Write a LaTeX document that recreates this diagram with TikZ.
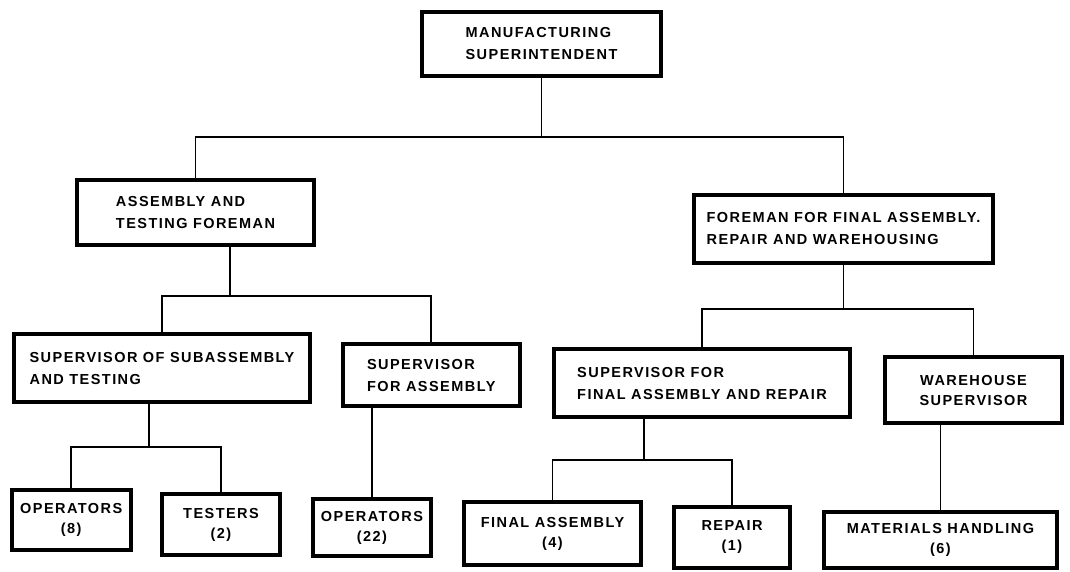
\documentclass[tikz,border=0pt]{standalone}
\usepackage{fontspec}
\setmainfont{Liberation Sans}[LetterSpace=10]
\usepackage{tikz}
\usetikzlibrary{calc}
\tikzset{
  orgbox/.style={draw, line width=4pt, align=left, inner sep=0pt,
    font=\bfseries\fontsize{14.5}{22}\selectfont},
  leafbox/.style={orgbox, align=center, font=\bfseries\fontsize{14.5}{20}\selectfont},
  conn/.style={line width=1.7pt},
}

\begin{document}
\begin{tikzpicture}[x=1pt, y=-1pt]
\useasboundingbox (0,0) rectangle (1070,571);
% level 0 and 1
\node[orgbox, minimum width=239pt, minimum height=64pt] (top) at (541.5,44) {MANUFACTURING\\SUPERINTENDENT};
\node[orgbox, minimum width=237pt, minimum height=65pt] (asmf) at (195.5,212.5) {ASSEMBLY AND\\TESTING FOREMAN};
\node[orgbox, minimum width=299pt, minimum height=68pt] (finf) at (843.5,229) {FOREMAN FOR FINAL ASSEMBLY.\\REPAIR AND WAREHOUSING};
% level 2
\node[orgbox, minimum width=296pt, minimum height=68pt] (sub) at (162,368) {SUPERVISOR OF SUBASSEMBLY\\AND TESTING};
\node[orgbox, minimum width=176.5pt, minimum height=62pt] (asup) at (431.25,375) {SUPERVISOR\\FOR ASSEMBLY};
\node[orgbox, minimum width=296pt, minimum height=68pt] (finsup) at (702,383) {SUPERVISOR FOR\\FINAL ASSEMBLY AND REPAIR};
\node[leafbox, minimum width=177pt, minimum height=66pt] (ware) at (973.5,390) {WAREHOUSE\\SUPERVISOR};
% level 3
\node[leafbox, minimum width=119.5pt, minimum height=60pt] (ops8) at (71.25,520) {OPERATORS\\(8)};
\node[leafbox, minimum width=118pt, minimum height=61pt] (test) at (221,524.5) {TESTERS\\(2)};
\node[leafbox, minimum width=118pt, minimum height=57pt] (ops22) at (372,527.5) {OPERATORS\\(22)};
\node[leafbox, minimum width=177pt, minimum height=63pt] (fasm) at (552.5,533.5) {FINAL ASSEMBLY\\(4)};
\node[leafbox, minimum width=116pt, minimum height=61pt] (rep) at (732,537.5) {REPAIR\\(1)};
\node[leafbox, minimum width=233pt, minimum height=56pt] (mat) at (940.5,540) {MATERIALS HANDLING\\(6)};
% branches
\foreach \up/\dx/\dy/\lft/\rgt in {top/0/59/asmf/finf, asmf/34.5/49/sub/asup, finf/0/44/finsup/ware, sub/-13/43/ops8/test, finsup/-58/41/fasm/rep} {
  \path (\up.south) ++(\dx,\dy) coordinate (j);
  \draw[conn] (\up.south -| j) -- (j);
  \draw[conn] (\lft.north) |- (j) -| (\rgt.north);
}
\foreach \up/\dn in {asup/ops22, ware/mat}
  \draw[conn] (\dn.north) -- (\dn.north |- \up.south);
\end{tikzpicture}
\end{document}
